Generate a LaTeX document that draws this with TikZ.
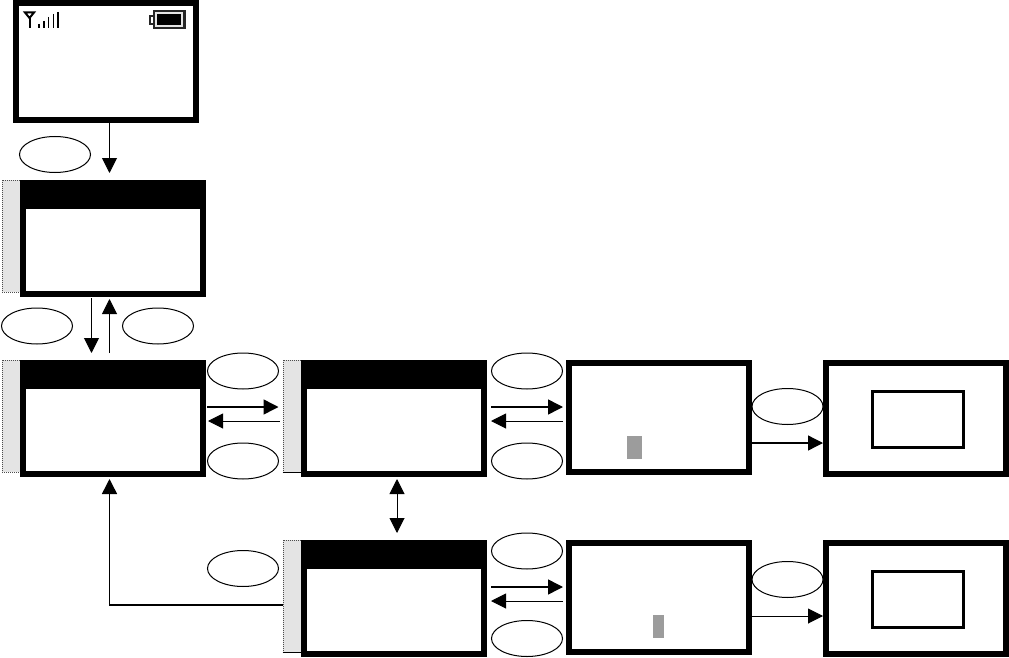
\documentclass[tikz,border=0pt]{standalone}
\usepackage{tikz}
\usetikzlibrary{arrows.meta,shapes.geometric}
\definecolor{tabgray}{HTML}{E4E4E4}
\definecolor{cursorgray}{HTML}{9C9C9C}
\tikzset{
  screenbox/.style={draw, line width=6pt, fill=white, inner sep=0pt, minimum width=180pt},
  headbar/.style={fill=black, inner sep=0pt, outer sep=0pt, minimum width=186pt, minimum height=29pt, anchor=north},
  tabbox/.style={draw=black!70, densely dotted, line width=1pt, fill=tabgray, inner sep=0pt, minimum width=18pt, minimum height=112pt},
  keyoval/.style={draw, ellipse, line width=1pt, fill=white, inner sep=0pt, minimum width=71pt, minimum height=36pt},
  popbox/.style={draw, line width=3pt, inner sep=0pt, minimum width=91pt, minimum height=56pt},
  cursorbar/.style={fill=cursorgray, inner sep=0pt, minimum height=23pt},
  flow/.style={-{Triangle[length=15pt,width=15pt]}, line width=1pt},
}
\begin{document}
\begin{tikzpicture}[x=1pt, y=-1pt]
  \useasboundingbox (0,0) rectangle (1009,658);

  \node[tabbox] (taba) at (11,236) {};
  \node[tabbox] (tabb) at (11,416) {};
  \node[tabbox] (tabc) at (292,416) {};
  \node[tabbox] (tabd) at (292,596) {};
  \draw[line width=1.2pt] (tabc.south west) -- (tabc.south east);
  \draw[line width=1.2pt] (tabd.south west) -- (tabd.south east);

  \node[screenbox, minimum height=117pt] (idle) at (106,61.5) {};
  \node[screenbox, minimum height=111pt] (menua) at (113,238.5) {};
  \node[screenbox, minimum height=111pt] (menub) at (113,418.5) {};
  \node[screenbox, minimum height=111pt] (menuc) at (394,418.5) {};
  \node[screenbox, minimum height=111pt] (menud) at (394,598.5) {};
  \node[screenbox, minimum height=109pt] (entrya) at (659,417.5) {};
  \node[screenbox, minimum height=109pt] (entryb) at (659,597.5) {};
  \node[screenbox, minimum height=111pt] (donea) at (916,418.5) {};
  \node[screenbox, minimum height=111pt] (doneb) at (916,598.5) {};

  \node[headbar] (heada) at (menua.north) {};
  \node[headbar] (headb) at (menub.north) {};
  \node[headbar] (headc) at (menuc.north) {};
  \node[headbar] (headd) at (menud.north) {};

  \node[popbox] (popa) at (918,419.5) {};
  \node[popbox] (popb) at (918,599.5) {};
  \node[cursorbar, minimum width=14.5pt] (cursora) at (634.5,447) {};
  \node[cursorbar, minimum width=11pt] (cursorb) at (658.5,626.5) {};

  \node[keyoval] (keya) at (55,154.5) {};
  \node[keyoval] (keyb) at (37,326) {};
  \node[keyoval] (keyc) at (158,326) {};
  \node[keyoval] (keyd) at (243,371) {};
  \node[keyoval] (keye) at (243,461) {};
  \node[keyoval] (keyf) at (527,371) {};
  \node[keyoval] (keyg) at (527,461) {};
  \node[keyoval] (keyh) at (243,568.5) {};
  \node[keyoval] (keyi) at (527,551) {};
  \node[keyoval] (keyj) at (527,638.5) {};
  \node[keyoval] (keyk) at (787.5,406.5) {};
  \node[keyoval] (keyl) at (787.5,579.5) {};

  \draw[flow] ([xshift=3.5pt]idle.south) -- ([xshift=-3.5pt,yshift=7pt]menua.north);
  \draw[flow] ([xshift=-21.5pt,yshift=-1pt]menua.south) -- ([xshift=-21.5pt,yshift=7pt]menub.north);
  \draw[flow] ([xshift=-3.5pt,yshift=7pt]menub.north) -- ([xshift=-3.5pt,yshift=-2pt]menua.south);
  \draw[flow, line width=1.5pt] ([xshift=1pt,yshift=11.5pt]menub.east) -- ([xshift=-4pt,yshift=9pt]tabc.west);
  \draw[flow] ([xshift=-3pt,yshift=-5pt]tabc.west) -- ([xshift=2pt,yshift=-2.5pt]menub.east);
  \draw[flow, line width=1.5pt] ([xshift=4pt,yshift=11.5pt]menuc.east) -- ([xshift=-3pt,yshift=10.5pt]entrya.west);
  \draw[flow] ([xshift=-3pt,yshift=-3.5pt]entrya.west) -- ([xshift=4pt,yshift=-2.5pt]menuc.east);
  \draw[flow, line width=1.3pt] ([yshift=-25.5pt]entrya.east) -- ([yshift=-24.5pt]donea.west);
  \draw[{Triangle[length=15pt,width=15pt]}-{Triangle[length=15pt,width=15pt]}, line width=1pt] ([xshift=3pt,yshift=-2pt]menuc.south) -- ([xshift=3pt,yshift=7pt]menud.north);
  \draw[flow, line width=1.5pt] ([xshift=4pt,yshift=11.5pt]menud.east) -- ([xshift=-3pt,yshift=10.5pt]entryb.west);
  \draw[flow] ([xshift=-3pt,yshift=-3.5pt]entryb.west) -- ([xshift=4pt,yshift=-2.5pt]menud.east);
  \draw[flow] ([yshift=-18.5pt]entryb.east) -- ([yshift=-17.5pt]doneb.west);
  \draw[flow, line width=1.5pt] ([yshift=-9pt]tabd.west) -| ([xshift=-3.5pt,yshift=-2pt]menub.south);

  % signal and battery icons
  \draw[line width=2pt] (25,12.5) -- (34,12.5) -- (29.5,18) -- cycle;
  \draw[line width=2pt] (29.5,17) -- (29.5,28);
  \draw[line width=1.5pt] (39,24) -- (39,28) (43.75,21) -- (43.75,28) (48.5,17) -- (48.5,28) (53.25,14) -- (53.25,28) (58,12) -- (58,28);
  \fill[black!85] (149,15) rectangle (153,25);
  \fill[white] (151,17) rectangle (153,23);
  \fill[black!85] (153,10) rectangle (186,29);
  \fill[black!10] (155,12) rectangle (183,27);
  \fill[black] (157,14) rectangle (181,25);
\end{tikzpicture}
\end{document}
